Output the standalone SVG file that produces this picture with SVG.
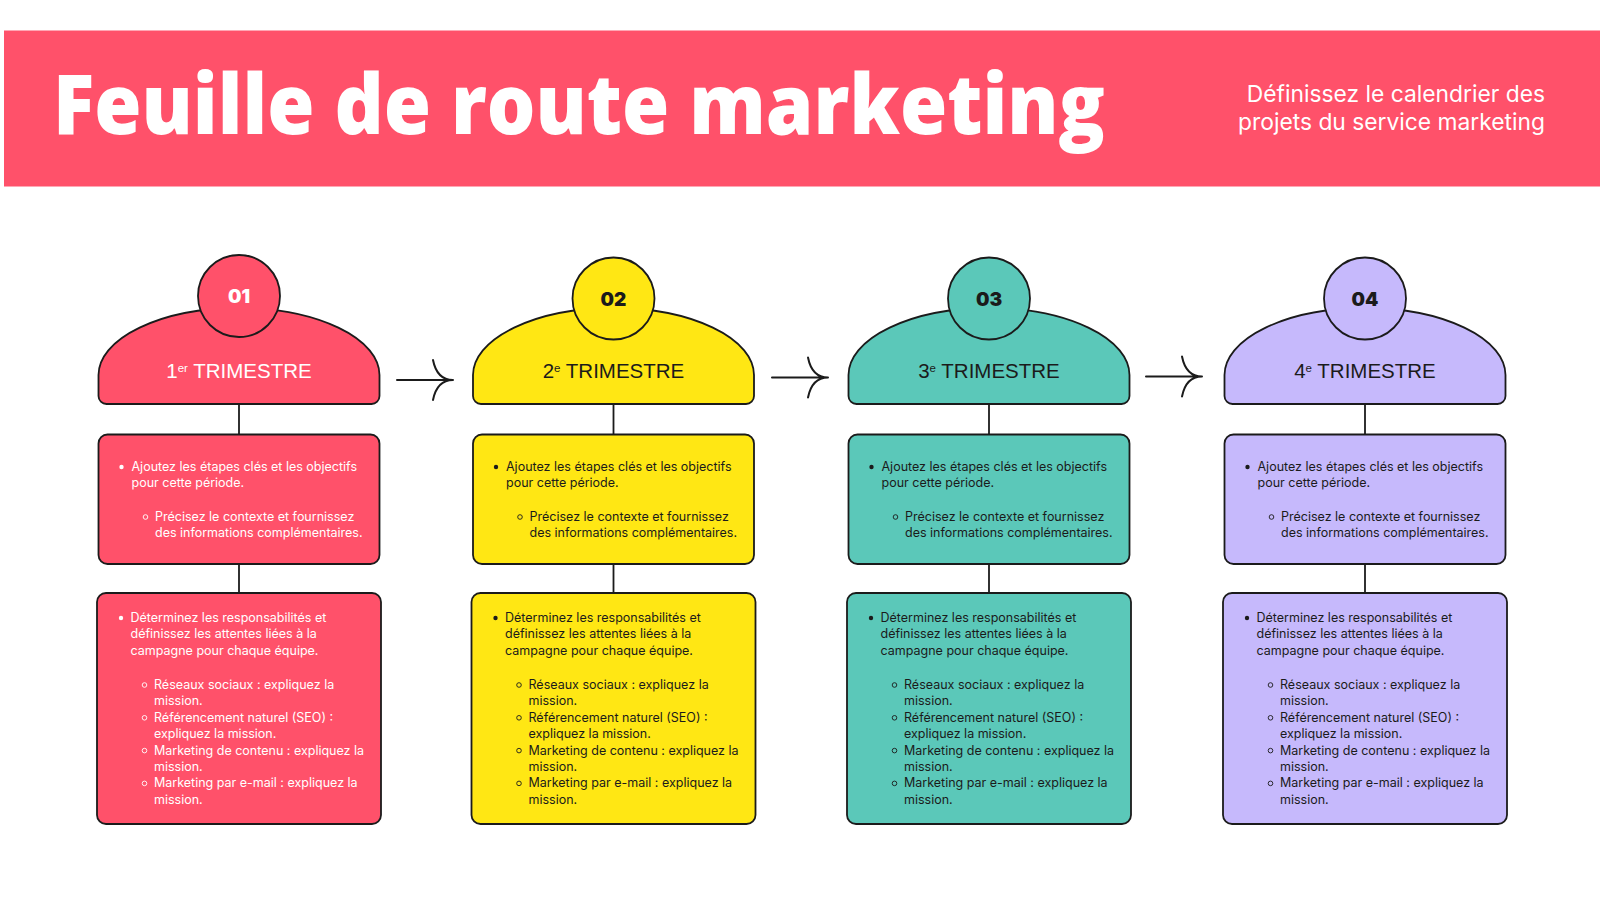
<svg xmlns="http://www.w3.org/2000/svg" width="1600" height="900" viewBox="0 0 1600 900">
<defs>
<style>
.stk{stroke:#1b1b1b;stroke-width:1.8}
.red{fill:#FF516A}.yel{fill:#FFE714}.tea{fill:#5BC8B9}.lav{fill:#C6B9FC}
.title{font-family:"Open Sans","Liberation Sans",sans-serif;font-weight:800;font-size:83px;fill:#fff}
.sub{font-family:Inter,"Liberation Sans",sans-serif;font-size:22.8px;fill:#fff;text-anchor:end}
.num{font-family:Inter,"Open Sans",sans-serif;font-weight:900;font-size:19px;text-anchor:middle}
.tri{font-family:"Liberation Sans",Arial,sans-serif;font-size:20.5px;text-anchor:middle}
.body{font-family:Inter,"Liberation Sans",sans-serif;font-size:12.5px}
.lt{fill:#fff}.dk{fill:#1b1b1b}
.bl{stroke:none}
.hb{fill:none;stroke-width:0.9}
.conn{stroke:#1b1b1b;stroke-width:1.8;fill:none}
.arr{stroke:#1b1b1b;stroke-width:2;fill:none;stroke-linecap:round}
</style>
<path id="dome" d="M-140.5,375 A140.5,67 0 0 1 140.5,375 L140.5,396 A8,8 0 0 1 132.5,404 L-132.5,404 A8,8 0 0 1 -140.5,396 Z"/>
</defs>
<rect width="1600" height="900" fill="#fff"/>

<g id="header">
<rect x="4" y="30.5" width="1600" height="156" fill="#FF516A"/>
<text class="title" x="53" y="133.5" textLength="1052" lengthAdjust="spacingAndGlyphs">Feuille de route marketing</text>
<text class="sub" x="1545" y="101.5">Définissez le calendrier des</text>
<text class="sub" x="1545" y="130">projets du service marketing</text>
</g>

<g id="connectors">
<line class="conn" x1="239" y1="404" x2="239" y2="434.5"/>
<line class="conn" x1="239" y1="564" x2="239" y2="593"/>
<line class="conn" x1="613.5" y1="404" x2="613.5" y2="434.5"/>
<line class="conn" x1="613.5" y1="564" x2="613.5" y2="593"/>
<line class="conn" x1="989" y1="404" x2="989" y2="434.5"/>
<line class="conn" x1="989" y1="564" x2="989" y2="593"/>
<line class="conn" x1="1365" y1="404" x2="1365" y2="434.5"/>
<line class="conn" x1="1365" y1="564" x2="1365" y2="593"/>
<path class="arr" d="M397,380 L453,380 M433,360 Q437,380 453,380 Q437,380 433,400"/>
<path class="arr" d="M772,377.5 L828,377.5 M808,357.5 Q812,377.5 828,377.5 Q812,377.5 808,397.5"/>
<path class="arr" d="M1146,376.5 L1202,376.5 M1182,356.5 Q1186,376.5 1202,376.5 Q1186,376.5 1182,396.5"/>
</g>

<!-- Column 1 -->
<g id="q1-head" transform="translate(239,0)">
<use href="#dome" class="red stk"/>
<circle cx="0" cy="296" r="41" class="red stk"/>
<text class="num lt" x="0" y="303">01</text>
<text class="tri lt" x="0" y="378">1<tspan font-size="11.5" dy="-6">er</tspan><tspan dy="6"> TRIMESTRE</tspan></text>
</g>
<g id="q1-goals" transform="translate(239,0)">
<rect x="-140.5" y="434.5" width="281" height="129.5" rx="9" class="red stk"/>
<g class="body lt">
<circle cx="-117.5" cy="467" r="2.2" class="lt bl"/>
<text x="-107.5" y="471">Ajoutez les étapes clés et les objectifs</text>
<text x="-107.5" y="487">pour cette période.</text>
<circle cx="-93.5" cy="517" r="2.3" class="hb" stroke="#fff"/>
<text x="-84" y="521">Précisez le contexte et fournissez</text>
<text x="-84" y="537">des informations complémentaires.</text>
</g>
</g>
<g id="q1-teams" transform="translate(239,0)">
<rect x="-142" y="593" width="284" height="231" rx="9" class="red stk"/>
<g class="body lt">
<circle cx="-118" cy="618" r="2.2" class="lt bl"/>
<text x="-108.5" y="622">Déterminez les responsabilités et</text>
<text x="-108.5" y="638.4">définissez les attentes liées à la</text>
<text x="-108.5" y="654.8">campagne pour chaque équipe.</text>
<circle cx="-94.5" cy="685" r="2.3" class="hb" stroke="#fff"/>
<text x="-85" y="689">Réseaux sociaux : expliquez la</text>
<text x="-85" y="705.4">mission.</text>
<circle cx="-94.5" cy="717.8" r="2.3" class="hb" stroke="#fff"/>
<text x="-85" y="721.8">Référencement naturel (SEO) :</text>
<text x="-85" y="738.2">expliquez la mission.</text>
<circle cx="-94.5" cy="750.6" r="2.3" class="hb" stroke="#fff"/>
<text x="-85" y="754.6">Marketing de contenu : expliquez la</text>
<text x="-85" y="771">mission.</text>
<circle cx="-94.5" cy="783.4" r="2.3" class="hb" stroke="#fff"/>
<text x="-85" y="787.4">Marketing par e-mail : expliquez la</text>
<text x="-85" y="803.8">mission.</text>
</g>
</g>

<!-- Column 2 -->
<g id="q2-head" transform="translate(613.5,0)">
<use href="#dome" class="yel stk"/>
<circle cx="0" cy="298.5" r="41" class="yel stk"/>
<text class="num dk" x="0" y="305.5">02</text>
<text class="tri dk" x="0" y="378">2<tspan font-size="11.5" dy="-6">e</tspan><tspan dy="6"> TRIMESTRE</tspan></text>
</g>
<g id="q2-goals" transform="translate(613.5,0)">
<rect x="-140.5" y="434.5" width="281" height="129.5" rx="9" class="yel stk"/>
<g class="body dk">
<circle cx="-117.5" cy="467" r="2.2" class="dk bl"/>
<text x="-107.5" y="471">Ajoutez les étapes clés et les objectifs</text>
<text x="-107.5" y="487">pour cette période.</text>
<circle cx="-93.5" cy="517" r="2.3" class="hb" stroke="#1b1b1b"/>
<text x="-84" y="521">Précisez le contexte et fournissez</text>
<text x="-84" y="537">des informations complémentaires.</text>
</g>
</g>
<g id="q2-teams" transform="translate(613.5,0)">
<rect x="-142" y="593" width="284" height="231" rx="9" class="yel stk"/>
<g class="body dk">
<circle cx="-118" cy="618" r="2.2" class="dk bl"/>
<text x="-108.5" y="622">Déterminez les responsabilités et</text>
<text x="-108.5" y="638.4">définissez les attentes liées à la</text>
<text x="-108.5" y="654.8">campagne pour chaque équipe.</text>
<circle cx="-94.5" cy="685" r="2.3" class="hb" stroke="#1b1b1b"/>
<text x="-85" y="689">Réseaux sociaux : expliquez la</text>
<text x="-85" y="705.4">mission.</text>
<circle cx="-94.5" cy="717.8" r="2.3" class="hb" stroke="#1b1b1b"/>
<text x="-85" y="721.8">Référencement naturel (SEO) :</text>
<text x="-85" y="738.2">expliquez la mission.</text>
<circle cx="-94.5" cy="750.6" r="2.3" class="hb" stroke="#1b1b1b"/>
<text x="-85" y="754.6">Marketing de contenu : expliquez la</text>
<text x="-85" y="771">mission.</text>
<circle cx="-94.5" cy="783.4" r="2.3" class="hb" stroke="#1b1b1b"/>
<text x="-85" y="787.4">Marketing par e-mail : expliquez la</text>
<text x="-85" y="803.8">mission.</text>
</g>
</g>

<!-- Column 3 -->
<g id="q3-head" transform="translate(989,0)">
<use href="#dome" class="tea stk"/>
<circle cx="0" cy="298.5" r="41" class="tea stk"/>
<text class="num dk" x="0" y="305.5">03</text>
<text class="tri dk" x="0" y="378">3<tspan font-size="11.5" dy="-6">e</tspan><tspan dy="6"> TRIMESTRE</tspan></text>
</g>
<g id="q3-goals" transform="translate(989,0)">
<rect x="-140.5" y="434.5" width="281" height="129.5" rx="9" class="tea stk"/>
<g class="body dk">
<circle cx="-117.5" cy="467" r="2.2" class="dk bl"/>
<text x="-107.5" y="471">Ajoutez les étapes clés et les objectifs</text>
<text x="-107.5" y="487">pour cette période.</text>
<circle cx="-93.5" cy="517" r="2.3" class="hb" stroke="#1b1b1b"/>
<text x="-84" y="521">Précisez le contexte et fournissez</text>
<text x="-84" y="537">des informations complémentaires.</text>
</g>
</g>
<g id="q3-teams" transform="translate(989,0)">
<rect x="-142" y="593" width="284" height="231" rx="9" class="tea stk"/>
<g class="body dk">
<circle cx="-118" cy="618" r="2.2" class="dk bl"/>
<text x="-108.5" y="622">Déterminez les responsabilités et</text>
<text x="-108.5" y="638.4">définissez les attentes liées à la</text>
<text x="-108.5" y="654.8">campagne pour chaque équipe.</text>
<circle cx="-94.5" cy="685" r="2.3" class="hb" stroke="#1b1b1b"/>
<text x="-85" y="689">Réseaux sociaux : expliquez la</text>
<text x="-85" y="705.4">mission.</text>
<circle cx="-94.5" cy="717.8" r="2.3" class="hb" stroke="#1b1b1b"/>
<text x="-85" y="721.8">Référencement naturel (SEO) :</text>
<text x="-85" y="738.2">expliquez la mission.</text>
<circle cx="-94.5" cy="750.6" r="2.3" class="hb" stroke="#1b1b1b"/>
<text x="-85" y="754.6">Marketing de contenu : expliquez la</text>
<text x="-85" y="771">mission.</text>
<circle cx="-94.5" cy="783.4" r="2.3" class="hb" stroke="#1b1b1b"/>
<text x="-85" y="787.4">Marketing par e-mail : expliquez la</text>
<text x="-85" y="803.8">mission.</text>
</g>
</g>

<!-- Column 4 -->
<g id="q4-head" transform="translate(1365,0)">
<use href="#dome" class="lav stk"/>
<circle cx="0" cy="298.5" r="41" class="lav stk"/>
<text class="num dk" x="0" y="305.5">04</text>
<text class="tri dk" x="0" y="378">4<tspan font-size="11.5" dy="-6">e</tspan><tspan dy="6"> TRIMESTRE</tspan></text>
</g>
<g id="q4-goals" transform="translate(1365,0)">
<rect x="-140.5" y="434.5" width="281" height="129.5" rx="9" class="lav stk"/>
<g class="body dk">
<circle cx="-117.5" cy="467" r="2.2" class="dk bl"/>
<text x="-107.5" y="471">Ajoutez les étapes clés et les objectifs</text>
<text x="-107.5" y="487">pour cette période.</text>
<circle cx="-93.5" cy="517" r="2.3" class="hb" stroke="#1b1b1b"/>
<text x="-84" y="521">Précisez le contexte et fournissez</text>
<text x="-84" y="537">des informations complémentaires.</text>
</g>
</g>
<g id="q4-teams" transform="translate(1365,0)">
<rect x="-142" y="593" width="284" height="231" rx="9" class="lav stk"/>
<g class="body dk">
<circle cx="-118" cy="618" r="2.2" class="dk bl"/>
<text x="-108.5" y="622">Déterminez les responsabilités et</text>
<text x="-108.5" y="638.4">définissez les attentes liées à la</text>
<text x="-108.5" y="654.8">campagne pour chaque équipe.</text>
<circle cx="-94.5" cy="685" r="2.3" class="hb" stroke="#1b1b1b"/>
<text x="-85" y="689">Réseaux sociaux : expliquez la</text>
<text x="-85" y="705.4">mission.</text>
<circle cx="-94.5" cy="717.8" r="2.3" class="hb" stroke="#1b1b1b"/>
<text x="-85" y="721.8">Référencement naturel (SEO) :</text>
<text x="-85" y="738.2">expliquez la mission.</text>
<circle cx="-94.5" cy="750.6" r="2.3" class="hb" stroke="#1b1b1b"/>
<text x="-85" y="754.6">Marketing de contenu : expliquez la</text>
<text x="-85" y="771">mission.</text>
<circle cx="-94.5" cy="783.4" r="2.3" class="hb" stroke="#1b1b1b"/>
<text x="-85" y="787.4">Marketing par e-mail : expliquez la</text>
<text x="-85" y="803.8">mission.</text>
</g>
</g>
</svg>
